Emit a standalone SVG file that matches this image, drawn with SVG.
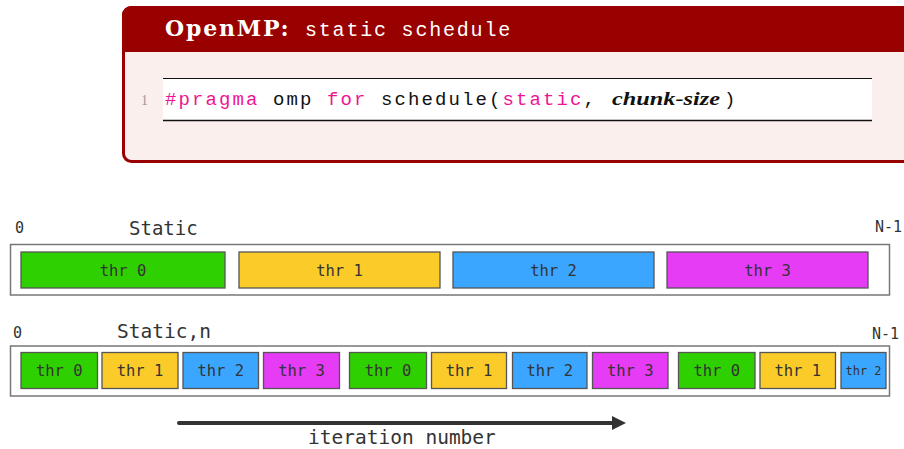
<svg xmlns="http://www.w3.org/2000/svg" width="904" height="449" viewBox="0 0 904 449">
  <style>
    .mono { font-family: "DejaVu Sans Mono", "Liberation Mono", monospace; fill: #333; }
    .tt { font-family: "Liberation Mono", "DejaVu Sans Mono", monospace; }
    .kw { fill: #ee1493; }
    .lane { fill: #ffffff; stroke: #777; stroke-width: 1.5; }
    .chunk { stroke: #555; stroke-width: 1.3; }
    .t0 { fill: #2fd000; }
    .t1 { fill: #fbcb2a; }
    .t2 { fill: #3aa6ff; }
    .t3 { fill: #e63cf6; }
    .lbl { font-family: "DejaVu Sans Mono", "Liberation Mono", monospace; font-size: 15.5px; fill: #333; text-anchor: middle; }
    .lbl.small { font-size: 12px; }
  </style>
  <defs>
    <clipPath id="boxClip">
      <rect x="122" y="6" width="900" height="157" rx="9"/>
    </clipPath>
  </defs>

  <rect width="904" height="449" fill="#ffffff"/>

  <!-- Code box: title bar and body -->
  <g id="code-box">
    <g clip-path="url(#boxClip)">
      <rect x="122" y="6" width="900" height="157" fill="#fbefee"/>
      <rect x="122" y="6" width="900" height="46" fill="#990000"/>
    </g>
    <rect x="123.5" y="7.5" width="897" height="154" rx="8" fill="none" stroke="#990000" stroke-width="3"/>
    <text x="165" y="36" font-family="'DejaVu Serif', 'Liberation Serif', serif" font-size="22" font-weight="bold" fill="#ffffff" letter-spacing="1.8">OpenMP:</text>
    <text x="305" y="36" class="tt" font-size="20" fill="#ffffff" letter-spacing="1.8">static schedule</text>

    <rect x="163" y="78.5" width="709" height="42" fill="#ffffff"/>
    <line x1="163" y1="78.5" x2="872" y2="78.5" stroke="#111" stroke-width="1.2"/>
    <line x1="163" y1="120.5" x2="872" y2="120.5" stroke="#111" stroke-width="1.4"/>
    <text x="141" y="105" font-family="'Liberation Serif', serif" font-size="14" fill="#999">1</text>
    <text x="165" y="105" class="tt" font-size="19" fill="#111" letter-spacing="2.1"><tspan class="kw">#pragma</tspan> omp <tspan class="kw">for</tspan> schedule(<tspan class="kw">static</tspan>,</text>
    <text x="612" y="105" font-family="'Liberation Serif', serif" font-size="19" font-style="italic" font-weight="bold" fill="#111" textLength="108" lengthAdjust="spacingAndGlyphs">chunk-size</text>
    <text x="724" y="105" class="tt" font-size="19" fill="#111">)</text>
  </g>

  <!-- Static schedule: one block per thread -->
  <g id="static">
    <text x="15" y="233" class="mono" font-size="15">0</text>
    <text x="129" y="235" class="mono" font-size="19">Static</text>
    <text x="875" y="232" class="mono" font-size="15">N-1</text>
    <rect class="lane" x="10.5" y="244.5" width="879" height="50.5"/>
    <g id="s-thr0"><rect class="chunk t0" x="21" y="252" width="204" height="36"/><text class="lbl" x="123" y="276">thr 0</text></g>
    <g id="s-thr1"><rect class="chunk t1" x="239" y="252" width="201" height="36"/><text class="lbl" x="339.5" y="276">thr 1</text></g>
    <g id="s-thr2"><rect class="chunk t2" x="453" y="252" width="201" height="36"/><text class="lbl" x="553.5" y="276">thr 2</text></g>
    <g id="s-thr3"><rect class="chunk t3" x="667" y="252" width="201" height="36"/><text class="lbl" x="767.5" y="276">thr 3</text></g>
  </g>

  <!-- Static,n schedule: round-robin chunks -->
  <g id="static-n">
    <text x="13" y="338" class="mono" font-size="15">0</text>
    <text x="117" y="338" class="mono" font-size="19.5">Static,n</text>
    <text x="872" y="339" class="mono" font-size="15">N-1</text>
    <rect class="lane" x="10.5" y="346" width="879" height="50"/>
    <g id="n-c1"><rect class="chunk t0" x="21" y="352.5" width="76.5" height="36"/><text class="lbl" x="59.25" y="376">thr 0</text></g>
    <g id="n-c2"><rect class="chunk t1" x="102" y="352.5" width="76" height="36"/><text class="lbl" x="140" y="376">thr 1</text></g>
    <g id="n-c3"><rect class="chunk t2" x="183" y="352.5" width="75.5" height="36"/><text class="lbl" x="220.75" y="376">thr 2</text></g>
    <g id="n-c4"><rect class="chunk t3" x="263.5" y="352.5" width="76" height="36"/><text class="lbl" x="301.5" y="376">thr 3</text></g>
    <g id="n-c5"><rect class="chunk t0" x="349.5" y="352.5" width="77" height="36"/><text class="lbl" x="388" y="376">thr 0</text></g>
    <g id="n-c6"><rect class="chunk t1" x="431.5" y="352.5" width="75" height="36"/><text class="lbl" x="469" y="376">thr 1</text></g>
    <g id="n-c7"><rect class="chunk t2" x="512.5" y="352.5" width="74.5" height="36"/><text class="lbl" x="549.75" y="376">thr 2</text></g>
    <g id="n-c8"><rect class="chunk t3" x="592.5" y="352.5" width="75.5" height="36"/><text class="lbl" x="630.25" y="376">thr 3</text></g>
    <g id="n-c9"><rect class="chunk t0" x="678.5" y="352.5" width="76.5" height="36"/><text class="lbl" x="716.75" y="376">thr 0</text></g>
    <g id="n-c10"><rect class="chunk t1" x="760" y="352.5" width="75.5" height="36"/><text class="lbl" x="797.75" y="376">thr 1</text></g>
    <g id="n-c11"><rect class="chunk t2" x="841" y="352.5" width="45" height="36"/><text class="lbl small" x="863.5" y="375">thr 2</text></g>
  </g>

  <!-- Iteration axis -->
  <g id="connectors">
    <line x1="179" y1="423" x2="615" y2="423" stroke="#333" stroke-width="4" stroke-linecap="round"/>
    <polygon points="612,416 626,423 612,430" fill="#333"/>
  </g>
  <text x="308" y="444" class="mono" font-size="19.5">iteration number</text>
</svg>
